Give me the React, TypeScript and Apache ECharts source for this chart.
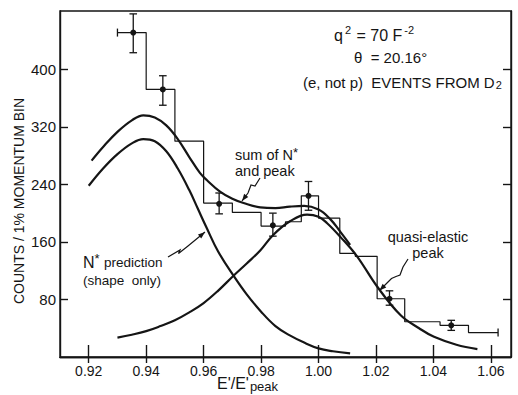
import React, { useEffect, useRef } from "react";
import * as echarts from "echarts";

// Histogram (bin edges and counts)
const binEdges = [0.93, 0.94, 0.95, 0.96, 0.97, 0.98, 0.9885, 0.994, 1.0, 1.0074, 1.0128, 1.0204, 1.03, 1.0423, 1.0522, 1.0625];
const binCounts = [451, 372, 300, 214, 201, 182, 188, 224, 193, 144, 140, 81, 49, 44, 34];

// Data points with error bars
const pointX = [0.9355, 0.9458, 0.9654, 0.9841, 0.9965, 1.0247, 1.0462];
const pointY = [451, 372, 213, 183, 224, 81, 44];
const errLow = [423, 350, 199, 168, 204, 72, 37];
const errHigh = [477, 391, 228, 200, 244, 92, 51];

// N* prediction curve
const nStarX = [0.92, 0.925, 0.93, 0.935, 0.939, 0.943, 0.947, 0.951, 0.955, 0.958, 0.961, 0.965, 0.9704, 0.975, 0.98, 0.985, 0.99, 0.995, 1.0, 1.005, 1.011];
const nStarY = [238, 262, 282, 297, 303, 300, 286, 262, 232, 206, 180, 147, 113, 87, 63, 43, 30, 20, 12, 8, 5];

// Sum of N* and peak
const sumX = [0.921, 0.925, 0.93, 0.935, 0.939, 0.943, 0.947, 0.951, 0.955, 0.9587, 0.9611, 0.9657, 0.97, 0.9739, 0.9797, 0.985, 0.99, 0.995, 1.0, 1.004, 1.0076, 1.011];
const sumY = [273, 292, 313, 329, 336, 333, 322, 303, 278, 256, 246, 230, 220, 214, 208, 207, 209, 210, 205, 192, 174, 156];

// Quasi-elastic peak
const qeX = [0.93, 0.935, 0.94, 0.945, 0.95, 0.955, 0.96, 0.965, 0.9704, 0.975, 0.9797, 0.9843, 0.9902, 0.996, 1.0, 1.003, 1.0076, 1.0134, 1.0204, 1.0286, 1.035, 1.0402, 1.048, 1.0553];
const qeY = [27, 31, 36, 43, 51, 62, 75, 92, 113, 130, 148, 170, 189, 198, 195, 186, 167, 140, 98, 58, 40, 28, 17, 11];

// Axis ticks
const xTicks = [0.92, 0.94, 0.96, 0.98, 1.0, 1.02, 1.04, 1.06];
const yTicks = [80, 160, 240, 320, 400];

const FONT = "'Liberation Sans', Arial, sans-serif";
const INK = "#151515";

function arrow(points: number[][]) {
  const n = points.length;
  const [x2, y2] = points[n - 1];
  const [x1, y1] = points[n - 2];
  const a = Math.atan2(y2 - y1, x2 - x1);
  const L = 7, W = 2.6;
  const bx = x2 - L * Math.cos(a), by = y2 - L * Math.sin(a);
  return [
    { type: "polyline", shape: { points }, style: { stroke: INK, lineWidth: 1.2, fill: null } },
    {
      type: "polygon",
      shape: {
        points: [
          [x2, y2],
          [bx + W * Math.sin(a), by - W * Math.cos(a)],
          [bx - W * Math.sin(a), by + W * Math.cos(a)],
        ],
      },
      style: { fill: INK },
    },
  ];
}

export default function App() {
  const ref = useRef<HTMLDivElement>(null);
  useEffect(() => {
    if (!ref.current) return;
    const chart = echarts.init(ref.current, null, { renderer: "svg" });

    const histData: number[][] = [];
    for (let i = 0; i < binCounts.length; i++) {
      histData.push([binEdges[i], binCounts[i]]);
      histData.push([binEdges[i + 1], binCounts[i]]);
    }
    const errData = pointX.map((x, i) => [x, pointY[i], errLow[i], errHigh[i]]);
    const capData = [
      [binEdges[0], binCounts[0]],
      [binEdges[binEdges.length - 1], binCounts[binCounts.length - 1]],
    ];

    const lineCommon = {
      type: "line",
      symbol: "none",
      smooth: 0.4,
      silent: true,
      lineStyle: { color: INK, width: 2.2 },
    };

    const option: any = {
      animation: false,
      backgroundColor: "#ffffff",
      grid: { left: 60, top: 11, right: 7, bottom: 38, show: true, borderColor: INK, borderWidth: 1.4 },
      xAxis: [
        {
          type: "value",
          min: 0.91,
          max: 1.067,
          axisLine: { show: true, lineStyle: { color: INK, width: 1.4 } },
          splitLine: { show: false },
          axisTick: { inside: true, length: 12, customValues: xTicks, lineStyle: { color: INK, width: 1.4 } },
          axisLabel: {
            customValues: xTicks,
            formatter: (v: number) => v.toFixed(2),
            color: INK,
            fontSize: 14,
            fontFamily: FONT,
            margin: 7,
          },
        },
        {
          type: "value",
          position: "top",
          min: 0.91,
          max: 1.067,
          axisLine: { show: true, lineStyle: { color: INK, width: 1.4 } },
          splitLine: { show: false },
          axisTick: { inside: true, length: 6, customValues: xTicks, lineStyle: { color: INK, width: 1.4 } },
          axisLabel: { show: false },
        },
      ],
      yAxis: [
        {
          type: "value",
          min: 0,
          max: 481,
          axisLine: { show: true, lineStyle: { color: INK, width: 1.4 } },
          splitLine: { show: false },
          axisTick: { inside: true, length: 8, customValues: yTicks, lineStyle: { color: INK, width: 1.4 } },
          axisLabel: { customValues: yTicks, color: INK, fontSize: 15, fontFamily: FONT, margin: 4 },
        },
        {
          type: "value",
          position: "right",
          min: 0,
          max: 481,
          axisLine: { show: true, lineStyle: { color: INK, width: 1.4 } },
          splitLine: { show: false },
          axisTick: { inside: true, length: 8, customValues: yTicks, lineStyle: { color: INK, width: 1.4 } },
          axisLabel: { show: false },
        },
      ],
      series: [
        {
          type: "line",
          name: "histogram",
          symbol: "none",
          silent: true,
          data: histData,
          lineStyle: { color: INK, width: 1.2 },
        },
        { ...lineCommon, name: "N* prediction", data: nStarX.map((x, i) => [x, nStarY[i]]) },
        { ...lineCommon, name: "sum of N* and peak", data: sumX.map((x, i) => [x, sumY[i]]) },
        { ...lineCommon, name: "quasi-elastic peak", data: qeX.map((x, i) => [x, qeY[i]]) },
        {
          type: "custom",
          name: "points",
          silent: true,
          data: errData,
          renderItem: (_params: any, api: any) => {
            const p = api.coord([api.value(0), api.value(1)]);
            const lo = api.coord([api.value(0), api.value(2)]);
            const hi = api.coord([api.value(0), api.value(3)]);
            const cw = 3.8;
            const st = { stroke: INK, lineWidth: 1.3 };
            return {
              type: "group",
              children: [
                { type: "line", shape: { x1: p[0], y1: lo[1], x2: p[0], y2: hi[1] }, style: st },
                { type: "line", shape: { x1: p[0] - cw, y1: lo[1], x2: p[0] + cw, y2: lo[1] }, style: st },
                { type: "line", shape: { x1: p[0] - cw, y1: hi[1], x2: p[0] + cw, y2: hi[1] }, style: st },
                { type: "circle", shape: { cx: p[0], cy: p[1], r: 3 }, style: { fill: INK } },
              ],
            };
          },
        },
        {
          type: "custom",
          name: "caps",
          silent: true,
          data: capData,
          renderItem: (_params: any, api: any) => {
            const p = api.coord([api.value(0), api.value(1)]);
            return {
              type: "line",
              shape: { x1: p[0], y1: p[1] - 4, x2: p[0], y2: p[1] + 4 },
              style: { stroke: INK, lineWidth: 1.3 },
            };
          },
        },
      ],
      graphic: [
        {
          type: "text",
          x: 19,
          y: 201,
          rotation: Math.PI / 2,
          style: {
            text: "COUNTS / 1% MOMENTUM BIN",
            fontSize: 14,
            fontFamily: FONT,
            fill: INK,
            align: "center",
            verticalAlign: "middle",
          },
        },
        {
          type: "text",
          x: 217,
          y: 383,
          style: {
            text: "E'/E'{s|peak}",
            fontSize: 16,
            fontFamily: FONT,
            fill: INK,
            align: "left",
            verticalAlign: "middle",
            rich: { s: { fontSize: 13, fontFamily: FONT, fill: INK, padding: [6, 0, 0, 1] } },
          },
        },
        {
          type: "text",
          x: 334,
          y: 35,
          style: {
            text: "q{sup|2} = 70 F{sup|-2}",
            fontSize: 16,
            fontFamily: FONT,
            fill: INK,
            align: "left",
            verticalAlign: "middle",
            rich: { sup: { fontSize: 11, fontFamily: FONT, fill: INK, padding: [0, 1, 10, 2] } },
          },
        },
        {
          type: "text",
          x: 354,
          y: 57,
          style: { text: "θ  = 20.16°", fontSize: 15, fontFamily: FONT, fill: INK, align: "left", verticalAlign: "middle" },
        },
        {
          type: "text",
          x: 303,
          y: 82,
          style: {
            text: "(e, not p)  EVENTS FROM D{sub|2}",
            fontSize: 15,
            fontFamily: FONT,
            fill: INK,
            align: "left",
            verticalAlign: "middle",
            rich: { sub: { fontSize: 11, fontFamily: FONT, fill: INK, padding: [5, 0, 0, 1] } },
          },
        },
        {
          type: "text",
          x: 235,
          y: 155,
          style: {
            text: "sum of N{sup|*}",
            fontSize: 14.5,
            fontFamily: FONT,
            fill: INK,
            align: "left",
            verticalAlign: "middle",
            rich: { sup: { fontSize: 13, fontFamily: FONT, fill: INK, padding: [0, 0, 6, 0] } },
          },
        },
        {
          type: "text",
          x: 235,
          y: 171,
          style: { text: "and peak", fontSize: 14.5, fontFamily: FONT, fill: INK, align: "left", verticalAlign: "middle" },
        },
        {
          type: "text",
          x: 83,
          y: 262,
          style: {
            text: "N{sup|*} {sm|prediction}",
            fontSize: 16,
            fontFamily: FONT,
            fill: INK,
            align: "left",
            verticalAlign: "middle",
            rich: {
              sup: { fontSize: 13, fontFamily: FONT, fill: INK, padding: [0, 0, 7, 0] },
              sm: { fontSize: 13.5, fontFamily: FONT, fill: INK },
            },
          },
        },
        {
          type: "text",
          x: 83,
          y: 280,
          style: { text: "(shape  only)", fontSize: 13.5, fontFamily: FONT, fill: INK, align: "left", verticalAlign: "middle" },
        },
        {
          type: "text",
          x: 428,
          y: 237,
          style: { text: "quasi-elastic", fontSize: 14.5, fontFamily: FONT, fill: INK, align: "center", verticalAlign: "middle" },
        },
        {
          type: "text",
          x: 428,
          y: 253,
          style: { text: "peak", fontSize: 14.5, fontFamily: FONT, fill: INK, align: "center", verticalAlign: "middle" },
        },
        ...arrow([[260, 178], [255, 186], [251, 185], [248, 193], [242, 201]]),
        ...arrow([[168, 257], [180, 250], [178.5, 253.5], [188, 246], [205, 232]]),
        ...arrow([[408, 259], [403, 267], [400, 275], [396, 276.5], [391.5, 278.5], [388, 282], [379.5, 290.5]]),
      ],
    };

    chart.setOption(option);
    return () => chart.dispose();
  }, []);

  return (
    <div
      ref={ref}
      style={{ position: "absolute", left: 0, top: 0, width: 518, height: 395, background: "#fff" }}
    />
  );
}
